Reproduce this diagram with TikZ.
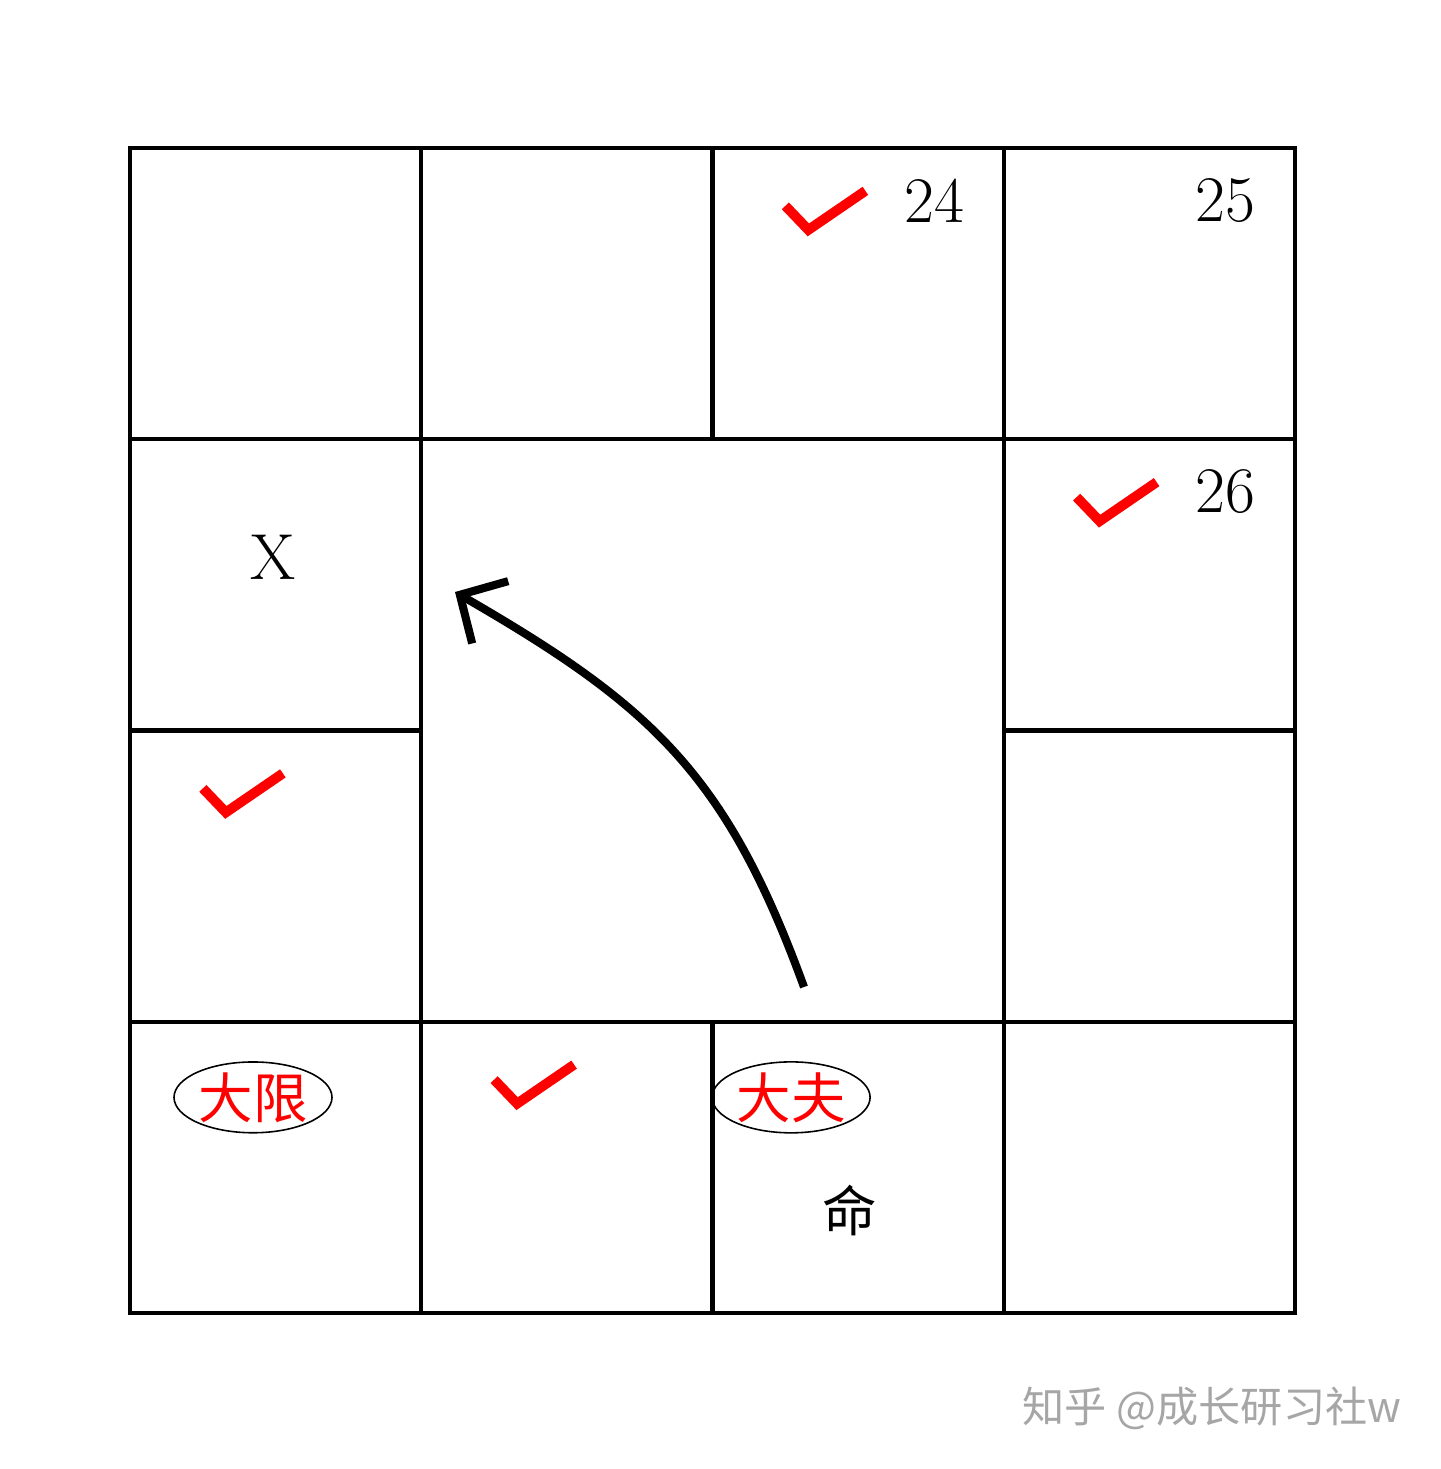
\documentclass[tikz,border=0pt]{standalone}
\usepackage{fontspec}
\newfontfamily\cjk{Noto Sans CJK SC}
\usetikzlibrary{positioning,shapes.geometric,arrows.meta}

\begin{document}
\begin{tikzpicture}[node distance=2.9125cm,
  cell/.style={draw,line width=1.2pt,minimum size=2.9125cm,inner sep=0pt},
  tick/.style={draw=red,line width=2.8pt},
  num/.style={font=\fontsize{18.5}{20}\selectfont},
  tag/.style={ellipse,draw,line width=0.45pt,text=red,minimum width=1.58cm,minimum height=0.67cm,inner sep=0pt,font=\cjk\fontsize{15.5}{16}\selectfont}]
  \useasboundingbox (0,0) rectangle (14.40,-14.69);
  \node[cell] (c11) at (2.756,-2.936) {};
  \node[cell] (c12) [right of=c11] {};
  \node[cell] (c13) [right of=c12] {};
  \node[cell] (c14) [right of=c13] {};
  \node[cell] (c21) [below of=c11] {};
  \node[cell] (c31) [below of=c21] {};
  \node[cell] (c41) [below of=c31] {};
  \node[cell] (c42) [right of=c41] {};
  \node[cell] (c43) [right of=c42] {};
  \node[cell] (c44) [right of=c43] {};
  \node[cell] (c24) [below of=c14] {};
  \node[cell] (c34) [below of=c24] {};

  \node[num] (n24) at ([shift={(0.76,0.93)}]c13) {24};
  \node[num] (n25) at ([shift={(0.76,0.93)}]c14) {25};
  \node[num] (n26) at ([shift={(0.76,0.93)}]c24) {26};
  \node[num] (x) at ([shift={(-0.03,0.28)}]c21) {X};
  \node[tag] (daxian) at ([shift={(-0.226,0.70)}]c41) {大限};
  \node[tag] (dafu) at ([shift={(-0.67,0.70)}]c43) {大夫};
  \node[font=\cjk\fontsize{15.5}{16}\selectfont] (ming) at ([shift={(-0.08,-0.43)}]c43) {命};

  \draw[tick] ([shift={(0.75,-0.60)}]c13.north west) -- ++(0.23,-0.24) -- ++(0.57,0.39);
  \draw[tick] ([shift={(0.75,-0.60)}]c24.north west) -- ++(0.23,-0.24) -- ++(0.57,0.39);
  \draw[tick] ([shift={(0.75,-0.60)}]c31.north west) -- ++(0.23,-0.24) -- ++(0.57,0.39);
  \draw[tick] ([shift={(0.75,-0.60)}]c42.north west) -- ++(0.23,-0.24) -- ++(0.57,0.39);

  \coordinate (from) at (8.04,-9.87);
  \coordinate (to) at (4.55,-5.92);
  \draw[line width=2.3pt,-{Straight Barb[length=3.5mm,width=7.2mm]}] (from) to[out=110,in=-30,looseness=1.1] (to);

  \node[text=black!35,font=\cjk\fontsize{12}{14}\selectfont] (mark) at (12.12,-14.08) {知乎 @成长研习社w};
\end{tikzpicture}
\end{document}
